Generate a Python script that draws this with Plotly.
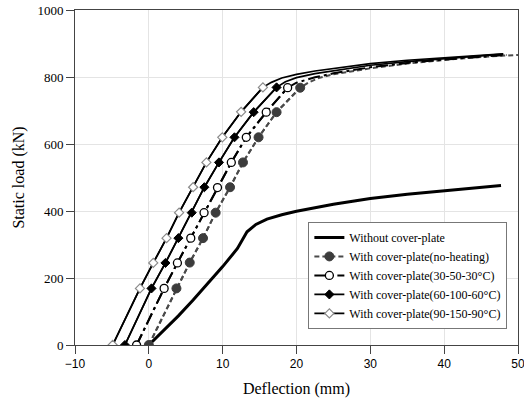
import plotly.graph_objects as go

# ---------------- data ----------------
names = [
    "Without cover-plate",
    "With cover-plate(no-heating)",
    "With cover-plate(30-50-30\u00b0C)",
    "With cover-plate(60-100-60\u00b0C)",
    "With cover-plate(90-150-90\u00b0C)",
]

x_without = [0, 2, 4, 6, 8, 10, 12, 13.3, 14.5, 16, 18, 20, 25, 30, 35, 40, 45, 47.7]
y_without = [0, 42, 87, 134, 183, 234, 288, 338, 360, 376, 389, 399, 420, 437, 450, 461, 470, 476]

x_noheat = [0, 3.74, 5.54, 7.34, 9.05, 11.0, 12.75, 14.86, 17.3, 20.5, 21.6, 23, 25, 30, 35, 40, 45, 50]
y_noheat = [0, 169, 246, 319, 395, 471, 545, 620, 695, 768, 783, 797, 808, 826, 840, 851, 860, 866]

x_3050 = [-1.66, 2.07, 3.87, 5.68, 7.48, 9.3, 11.17, 13.2, 15.9, 18.8, 20, 22.5, 25, 30, 35, 40, 45, 48.5]
y_3050 = [0, 169, 245, 319, 395, 470, 545, 620, 695, 768, 783, 799, 811, 829, 842, 852, 861, 866]

x_60100 = [-3.24, 0.36, 2.25, 4.0, 5.81, 7.52, 9.5, 11.6, 14.2, 17.3, 18.5, 20, 22.5, 25, 30, 35, 40, 45, 48]
y_60100 = [0, 169, 245, 319, 395, 471, 545, 620, 695, 769, 786, 798, 810, 819, 835, 846, 855, 863, 868]

x_90150 = [-4.9, -1.2, 0.6, 2.4, 4.1, 6.0, 7.8, 9.95, 12.5, 15.45, 16.6, 18, 20, 22.5, 25, 30, 35, 40, 45, 48]
y_90150 = [0, 169, 245, 319, 395, 471, 545, 620, 696, 769, 784, 797, 808, 818, 826, 840, 850, 858, 865, 869]

# number of leading points that carry a marker
n_markers = [0, 10, 10, 10, 10]

# ---------------- styles ----------------
series = [
    (x_without, y_without, dict(color="black", width=3, dash="solid"), None),
    (x_noheat, y_noheat, dict(color="#4a4a4a", width=2, dash="5px,3px"),
     dict(symbol="circle", size=9, color="#3c3c3c", line=dict(color="#3c3c3c", width=1))),
    (x_3050, y_3050, dict(color="black", width=2, dash="12px,4px,3px,4px"),
     dict(symbol="circle", size=8, color="white", line=dict(color="black", width=1.3))),
    (x_60100, y_60100, dict(color="black", width=1.7, dash="solid"),
     dict(symbol="diamond", size=7, color="black", line=dict(color="black", width=1))),
    (x_90150, y_90150, dict(color="black", width=1.7, dash="solid"),
     dict(symbol="diamond", size=7, color="white", line=dict(color="#8a8a8a", width=1.2))),
]

fig = go.Figure()
for name, (xs, ys, line, marker), nm in zip(names, series, n_markers):
    if marker is None:
        fig.add_trace(go.Scatter(x=xs, y=ys, mode="lines", line=line, name=name))
    else:
        fig.add_trace(go.Scatter(x=xs, y=ys, mode="lines", line=line,
                                 showlegend=False, hoverinfo="skip"))
        fig.add_trace(go.Scatter(x=xs[:nm], y=ys[:nm], mode="lines+markers",
                                 line=line, marker=marker, name=name))

serif = "Liberation Serif, Times New Roman, serif"
sans = "Liberation Sans, Arial, sans-serif"

fig.update_layout(
    width=524, height=400,
    margin=dict(l=75, r=6, t=10, b=55),
    paper_bgcolor="white", plot_bgcolor="white",
    showlegend=True,
    legend=dict(
        x=0.976, y=0.048, xanchor="right", yanchor="bottom",
        font=dict(family=serif, size=12, color="black"),
        bgcolor="white", bordercolor="#777", borderwidth=1,
        tracegroupgap=0, itemwidth=30,
    ),
    xaxis=dict(
        range=[-10, 50], dtick=10, tick0=-10, automargin=False,
        ticklabeloverflow="allow",
        ticks="outside", ticklen=8, tickcolor="#444",
        tickfont=dict(family=sans, size=12, color="black"),
        showgrid=True, gridcolor="#e4e4e4", gridwidth=1,
        showline=True, linecolor="#444", linewidth=1, mirror=True,
        zeroline=False,
        title=dict(text="Deflection (mm)", font=dict(family=serif, size=16, color="black"), standoff=12),
    ),
    yaxis=dict(
        range=[0, 1000], dtick=200, automargin=False,
        ticklabeloverflow="allow",
        ticks="outside", ticklen=8, tickcolor="#444",
        tickfont=dict(family=serif, size=13, color="black"),
        showgrid=True, gridcolor="#e4e4e4", gridwidth=1,
        showline=True, linecolor="#444", linewidth=1, mirror=True,
        zeroline=False,
        title=dict(text="Static load (kN)", font=dict(family=serif, size=16, color="black"), standoff=8),
    ),
)

fig.write_html("out.html")
